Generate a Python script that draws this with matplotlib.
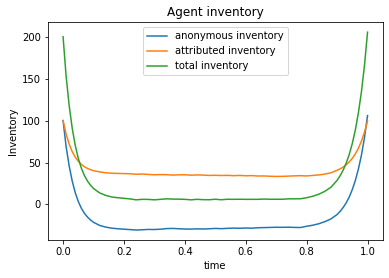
import numpy as np
import matplotlib
matplotlib.use('Agg')
import matplotlib.pyplot as plt

# time grid (denser near the ends where the curves move fast)
time = [0.00, 0.01, 0.02, 0.03, 0.04, 0.05, 0.06, 0.07, 0.08, 0.09, 0.10,
        0.12, 0.14, 0.16, 0.18, 0.20, 0.22, 0.24, 0.26, 0.28, 0.30,
        0.32, 0.34, 0.36, 0.38, 0.40, 0.42, 0.44, 0.46, 0.48, 0.50,
        0.52, 0.54, 0.56, 0.58, 0.60, 0.62, 0.64, 0.66, 0.68, 0.70,
        0.72, 0.74, 0.76, 0.78, 0.80, 0.82, 0.84, 0.86, 0.88,
        0.90, 0.91, 0.92, 0.93, 0.94, 0.95, 0.96, 0.97, 0.98, 0.99, 1.00]

anonymous = [100, 69, 46, 28, 14, 3.5, -4.5, -10.5, -15, -18.5, -21.3,
             -25, -27, -28.3, -29, -29.5, -30, -30.5, -30.2, -29.8, -29.9,
             -29.5, -28.8, -28.6, -29, -29.3, -29.4, -29.1, -29.3, -29.0, -28.6,
             -28.9, -28.5, -28.2, -28.4, -28.1, -28.3, -27.8, -27.6, -27.4, -27.2,
             -27.3, -27.1, -27.4, -27.5, -26.0, -24.8, -23.0, -20.5, -17.2,
             -12, -8.2, -3.6, 2, 9, 17.8, 28.7, 42.3, 59, 80, 106]

attributed = [100, 84, 72, 63, 56.4, 51.5, 47.8, 45, 43, 41.5, 40.3,
              38.8, 37.8, 37.2, 37.0, 36.8, 36.6, 36.0, 36.3, 35.8, 35.4,
              35.6, 35.5, 35.0, 35.3, 35.4, 34.9, 35.2, 35.0, 34.6, 34.8,
              34.5, 34.7, 34.3, 34.6, 34.2, 34.4, 33.9, 34.0, 33.6, 33.4,
              33.5, 33.8, 34.1, 34.3, 34.0, 34.6, 35.2, 36.2, 37.8,
              40.7, 42.5, 44.6, 47.4, 50.8, 55, 60.4, 67.1, 75.6, 86.2, 99.5]

total = [200, 153, 118, 91, 70.4, 55, 43.3, 34.5, 28, 23, 19,
         13.8, 10.8, 8.9, 8.0, 7.3, 6.6, 5.5, 6.1, 6.0, 5.5,
         6.1, 6.7, 6.4, 6.3, 6.1, 5.5, 6.1, 5.7, 5.6, 6.2,
         5.6, 6.2, 6.1, 6.2, 6.1, 6.1, 6.1, 6.4, 6.2, 6.2,
         6.2, 6.7, 6.7, 6.8, 8.0, 9.8, 12.2, 15.7, 20.6,
         28.7, 34.3, 41.0, 49.4, 59.8, 72.8, 89.1, 109.4, 134.6, 166.2, 205.5]

fig = plt.figure(figsize=(389 / 72, 278 / 72), dpi=72)
ax = fig.add_axes([0.123, 0.137, 0.861, 0.783])

ax.plot(time, anonymous, label="anonymous inventory")
ax.plot(time, attributed, label="attributed inventory")
ax.plot(time, total, label="total inventory")

ax.set_title("Agent inventory")
ax.set_xlabel("time")
ax.set_ylabel("Inventory")
ax.legend(loc="upper center")

fig.savefig("out.png", dpi=72)
